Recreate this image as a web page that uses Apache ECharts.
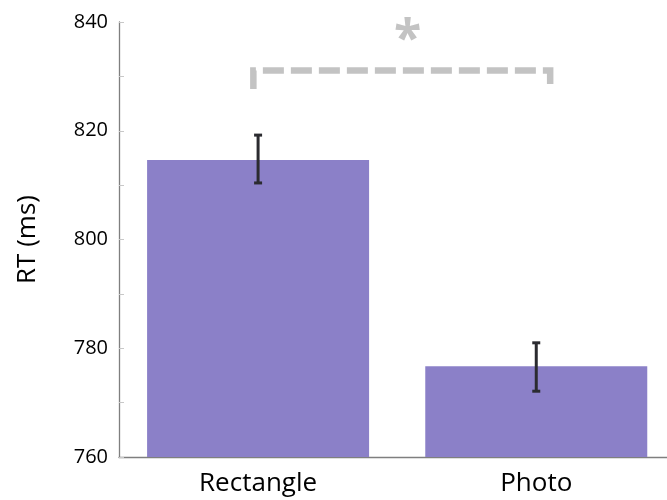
<!DOCTYPE html>
<html>
<head>
<meta charset="utf-8">
<script src="https://cdn.jsdelivr.net/npm/echarts@6/dist/echarts.min.js"></script>
<style>html,body{margin:0;padding:0;background:#fff;}#c{width:667px;height:500px;}</style>
</head>
<body>
<div id="c"></div>
<script>
const categories = ['Rectangle', 'Photo'];
const meanRT = [814.6, 776.7];
const errLow = [810.4, 772.1];
const errHigh = [819.2, 781.0];
const yTicks = [760, 780, 800, 820, 840];
// significance bracket: x positions (category index units), bar height, foot height
const bracketX = [-0.017, 1.05];
const bracketTop = 831.1;
const bracketFoot = 827.7;
const starX = 0.538;
const starY = 836.6;
const starLabel = '*';

const chart = echarts.init(document.getElementById('c'), null, {renderer: 'canvas'});
const font = '"Open Sans", "Noto Sans", sans-serif';
const catIdx = categories.map((c, i) => i);

chart.setOption({
  animation: false,
  grid: {left: 119, right: 0, top: 22, bottom: 43, containLabel: false},
  xAxis: {
    type: 'value',
    min: -0.5, max: 1.47,
    axisLine: {show: true, onZero: false, lineStyle: {color: '#7f7f7f', width: 1.3}},
    axisTick: {show: false},
    splitLine: {show: false},
    axisLabel: {
      customValues: catIdx,
      formatter: function (v) { return categories[Math.round(v)] || ''; },
      color: '#000', fontFamily: font, fontSize: 26, margin: 14
    }
  },
  yAxis: {
    type: 'value',
    min: yTicks[0], max: yTicks[yTicks.length - 1], interval: 20,
    name: 'RT (ms)', nameLocation: 'middle', nameGap: 78, nameRotate: 90,
    nameTextStyle: {color: '#000', fontFamily: font, fontSize: 26},
    axisLine: {show: true, onZero: false, lineStyle: {color: '#7f7f7f', width: 1.3}},
    axisTick: {show: true, inside: true, length: 5, lineStyle: {color: '#c8c8c8'}},
    minorTick: {show: true, splitNumber: 2, length: 5, lineStyle: {color: '#c8c8c8'}},
    splitLine: {show: false},
    axisLabel: {color: '#000', fontFamily: font, fontSize: 20, margin: 11}
  },
  series: [{
    type: 'bar',
    data: catIdx.map(i => [i, meanRT[i]]),
    barWidth: 222,
    itemStyle: {color: '#8b80c8'},
    clip: true
  }, {
    type: 'custom',
    data: catIdx.map(i => [i, errLow[i], errHigh[i]]),
    renderItem: function (params, api) {
      const lo = api.coord([api.value(0), api.value(1)]);
      const hi = api.coord([api.value(0), api.value(2)]);
      const cap = 4;
      const style = {stroke: '#2b2b30', lineWidth: 3};
      return {type: 'group', children: [
        {type: 'line', shape: {x1: lo[0], y1: lo[1], x2: hi[0], y2: hi[1]}, style: style},
        {type: 'line', shape: {x1: lo[0] - cap, y1: lo[1], x2: lo[0] + cap, y2: lo[1]}, style: style},
        {type: 'line', shape: {x1: hi[0] - cap, y1: hi[1], x2: hi[0] + cap, y2: hi[1]}, style: style}
      ]};
    },
    z: 5
  }, {
    type: 'custom',
    data: [[bracketX[0], bracketX[1], bracketTop, bracketFoot, starX, starY]],
    renderItem: function (params, api) {
      const p1 = api.coord([api.value(0), api.value(3)]);
      const p2 = api.coord([api.value(0), api.value(2)]);
      const p3 = api.coord([api.value(1), api.value(2)]);
      const p4 = api.coord([api.value(1), api.value(3)]);
      const s = api.coord([api.value(4), api.value(5)]);
      return {type: 'group', children: [
        {type: 'polyline', shape: {points: [p1, p2, p3, p4]},
         style: {stroke: '#c3c3c3', lineWidth: 6.5, lineDash: [21, 7], fill: null, lineJoin: 'miter', lineCap: 'butt'}},
        {type: 'text', x: s[0], y: s[1],
         style: {text: starLabel, fill: '#c3c3c3', font: 'bold 50px ' + font, align: 'center', verticalAlign: 'middle'}}
      ]};
    },
    clip: false,
    z: 5
  }]
});
</script>
</body>
</html>
